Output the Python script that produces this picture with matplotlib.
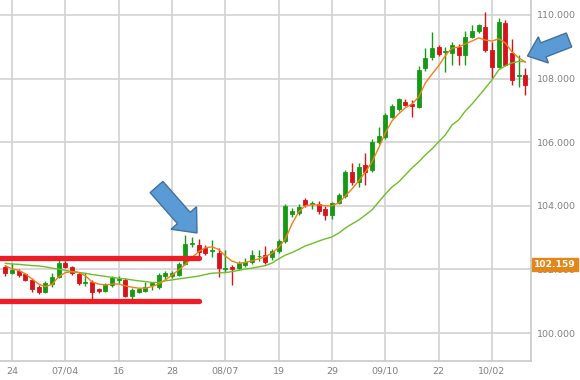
import numpy as np
import pandas as pd
import matplotlib
matplotlib.use("Agg")
import matplotlib.pyplot as plt
import matplotlib.transforms as mtransforms
from matplotlib.patches import FancyArrow

# USD/JPY daily candles, 23 Jun - 09 Oct 2014
dates = pd.bdate_range("2014-06-23", "2014-10-09")

opens = [102.07, 101.88, 101.96, 101.85, 101.67, 101.44, 101.30, 101.54, 101.77, 102.19,
         102.07, 101.86, 101.56, 101.61, 101.37, 101.32, 101.52, 101.68, 101.67, 101.17,
         101.30, 101.33, 101.50, 101.44, 101.80, 101.78, 101.82, 102.17, 102.80, 102.77,
         102.67, 102.58, 102.51, 102.00, 102.06, 102.04, 102.14, 102.24, 102.41, 102.45,
         102.40, 102.58, 102.88, 103.74, 103.78, 104.18, 104.06, 104.06, 103.90, 103.70,
         104.10, 104.31, 105.07, 104.76, 105.28, 105.13, 106.02, 106.17, 106.80, 107.03,
         107.27, 107.19, 107.12, 108.32, 108.69, 108.98, 108.83, 108.80, 109.00, 108.74,
         109.32, 109.48, 109.63, 108.90, 108.37, 109.76, 108.80, 108.09, 108.11]
highs = [102.14, 102.20, 102.00, 101.90, 101.72, 101.50, 101.62, 101.90, 102.30, 102.25,
         102.12, 101.92, 101.90, 101.66, 101.42, 101.58, 101.78, 101.80, 101.72, 101.40,
         101.40, 101.60, 101.58, 101.90, 101.95, 101.95, 102.22, 103.08, 103.03, 102.97,
         102.78, 102.93, 102.66, 102.61, 102.14, 102.25, 102.35, 102.60, 102.60, 102.72,
         102.65, 102.95, 104.05, 103.93, 104.05, 104.25, 104.15, 104.15, 104.00, 104.13,
         104.40, 105.13, 105.34, 105.35, 105.65, 106.10, 106.49, 106.92, 107.20, 107.40,
         107.35, 107.33, 108.38, 108.95, 109.47, 109.05, 109.00, 109.16, 109.10, 109.50,
         109.69, 109.72, 110.10, 109.16, 109.89, 109.84, 109.24, 108.74, 108.32]
lows = [101.78, 101.85, 101.75, 101.62, 101.30, 101.22, 101.25, 101.45, 101.72, 102.03,
        101.82, 101.50, 101.48, 101.00, 101.25, 101.30, 101.45, 101.58, 101.12, 101.05,
        101.25, 101.28, 101.35, 101.38, 101.70, 101.72, 101.78, 102.14, 102.71, 102.40,
        102.45, 102.40, 101.77, 101.93, 101.51, 101.98, 102.07, 102.18, 102.27, 102.17,
        102.30, 102.50, 102.82, 103.65, 103.72, 103.96, 103.90, 103.75, 103.55, 103.60,
        104.05, 104.25, 104.65, 104.60, 104.65, 105.07, 105.95, 106.10, 106.75, 106.98,
        107.13, 106.80, 107.07, 108.25, 108.58, 108.70, 108.22, 108.44, 108.44, 108.44,
        109.27, 109.42, 108.85, 108.01, 108.32, 108.38, 107.80, 107.75, 107.48]
closes = [101.90, 101.98, 101.82, 101.68, 101.37, 101.30, 101.56, 101.77, 102.19, 102.07,
          101.88, 101.56, 101.61, 101.30, 101.32, 101.54, 101.72, 101.71, 101.16, 101.35,
          101.37, 101.44, 101.56, 101.82, 101.88, 101.88, 102.16, 102.80, 102.82, 102.56,
          102.51, 102.61, 102.03, 102.05, 102.02, 102.21, 102.24, 102.45, 102.43, 102.24,
          102.59, 102.90, 103.98, 103.84, 103.96, 104.02, 104.09, 103.85, 103.70, 104.09,
          104.34, 105.07, 104.76, 105.23, 105.07, 106.02, 106.20, 106.86, 107.14, 107.35,
          107.17, 107.15, 108.27, 108.64, 108.95, 108.77, 108.86, 109.06, 108.74, 109.30,
          109.48, 109.69, 108.90, 108.37, 109.79, 108.43, 107.96, 108.11, 107.80]

# moving averages as drawn on the chart
ma_fast = [102.11, 102.02, 101.97, 101.86, 101.70, 101.54, 101.46, 101.53, 101.77, 101.90,
           101.93, 101.91, 101.80, 101.61, 101.54, 101.51, 101.54, 101.54, 101.48, 101.44,
           101.41, 101.41, 101.46, 101.54, 101.67, 101.82, 101.98, 102.16, 102.37, 102.56,
           102.68, 102.71, 102.63, 102.42, 102.26, 102.19, 102.22, 102.27, 102.33, 102.40,
           102.51, 102.69, 102.96, 103.43, 103.81, 104.00, 104.03, 104.03, 104.00, 104.00,
           104.09, 104.31, 104.53, 104.78, 105.06, 105.38, 105.82, 106.29, 106.67, 106.89,
           107.08, 107.20, 107.42, 107.86, 108.14, 108.40, 108.72, 108.96, 108.99, 109.09,
           109.18, 109.28, 109.21, 109.18, 109.25, 109.12, 108.84, 108.65, 108.52]
ma_slow = [102.19, 102.17, 102.16, 102.14, 102.12, 102.11, 102.08, 102.04, 102.01, 101.97,
           101.93, 101.90, 101.88, 101.84, 101.81, 101.78, 101.75, 101.72, 101.70, 101.67,
           101.64, 101.62, 101.59, 101.59, 101.64, 101.67, 101.70, 101.73, 101.76, 101.79,
           101.84, 101.88, 101.89, 101.90, 101.93, 101.97, 102.01, 102.04, 102.08, 102.12,
           102.20, 102.33, 102.45, 102.53, 102.63, 102.74, 102.81, 102.89, 102.96, 103.02,
           103.14, 103.30, 103.43, 103.55, 103.71, 103.87, 104.12, 104.37, 104.59, 104.75,
           104.97, 105.19, 105.38, 105.60, 105.79, 106.01, 106.23, 106.54, 106.70, 106.98,
           107.20, 107.45, 107.70, 107.96, 108.27, 108.40, 108.49, 108.54, 108.53]

tick_dates = ["2014-06-24", "2014-07-04", "2014-07-16", "2014-07-28", "2014-08-07",
              "2014-08-19", "2014-08-29", "2014-09-10", "2014-09-22", "2014-10-02"]
tick_labels = ["24", "07/04", "16", "28", "08/07", "19", "29", "09/10", "22", "10/02"]
y_ticks = [100, 102, 104, 106, 108, 110]

range_top = 102.37
range_bottom = 101.0
range_end = "2014-08-01"
last_price = 102.159

GREEN = "#169a16"
RED = "#d5151b"
GRID = "#d2d2d2"

fig = plt.figure(figsize=(5.8, 3.8), dpi=100)
ax = fig.add_axes([0, 0.05, 531 / 580, 0.95])

idx = np.arange(len(dates))
o = np.array(opens)
c = np.array(closes)
up = c >= o
colors = np.where(up, GREEN, RED)

ax.vlines(idx, lows, highs, colors=colors, linewidth=1, zorder=2)
ax.bar(idx, np.maximum(np.abs(c - o), 0.01), bottom=np.minimum(o, c), width=0.6,
       color=colors, edgecolor=colors, linewidth=0.6, zorder=2)

ax.plot(idx, ma_slow, color="#6cbf25", linewidth=1, zorder=3)
ax.plot(idx, ma_fast, color="#f57f17", linewidth=1, zorder=3)

end_i = dates.get_loc(pd.Timestamp(range_end))
ax.plot([-1, end_i], [range_top, range_top], color="#ee1c24", linewidth=3.8,
        solid_capstyle="round", zorder=4)
ax.plot([-1, end_i], [range_bottom, range_bottom], color="#ee1c24", linewidth=3.8,
        solid_capstyle="round", zorder=4)

tick_pos = [dates.get_loc(pd.Timestamp(d)) for d in tick_dates]
ax.set_xticks(tick_pos)
ax.set_xticklabels(tick_labels)
ax.set_yticks(y_ticks)
ax.set_yticklabels([f"{v:.3f}" for v in y_ticks])
ax.yaxis.tick_right()
ax.tick_params(axis="both", length=0, labelsize=6.8, labelcolor="#808080")
ax.tick_params(axis="y", pad=4.5)
ax.tick_params(axis="x", pad=4)

ax.set_xlim(-0.8, 78.85)
ax.set_ylim(99.12, 110.47)
ax.grid(True, color=GRID, linewidth=1.2)
ax.set_axisbelow(True)
for side in ["left", "top"]:
    ax.spines[side].set_visible(False)
for side in ["right", "bottom"]:
    ax.spines[side].set_color("#c8c8c8")
    ax.spines[side].set_linewidth(1.2)

trans = mtransforms.blended_transform_factory(ax.transAxes, ax.transData)
ax.text(1.006, last_price, f"{last_price:.3f}", transform=trans, ha="left", va="center",
        fontsize=6.6, fontweight="bold", color="white", clip_on=False, zorder=6,
        bbox=dict(boxstyle="square,pad=0.2", fc="#e3861c", ec="#e3861c"))

# annotation arrows, in pixel coordinates over the whole figure
over = fig.add_axes([0, 0, 1, 1])
over.set_xlim(0, 580)
over.set_ylim(380, 0)
over.axis("off")
over.add_patch(FancyArrow(156.5, 187, 40.5, 46, width=17, head_width=34, head_length=20,
                          length_includes_head=True, fc="#5b9bd5", ec="#41719c", lw=1))
over.add_patch(FancyArrow(569, 40, -41.5, 16, width=15, head_width=28, head_length=17,
                          length_includes_head=True, fc="#5b9bd5", ec="#41719c", lw=1))

fig.savefig("out.png", dpi=100)
